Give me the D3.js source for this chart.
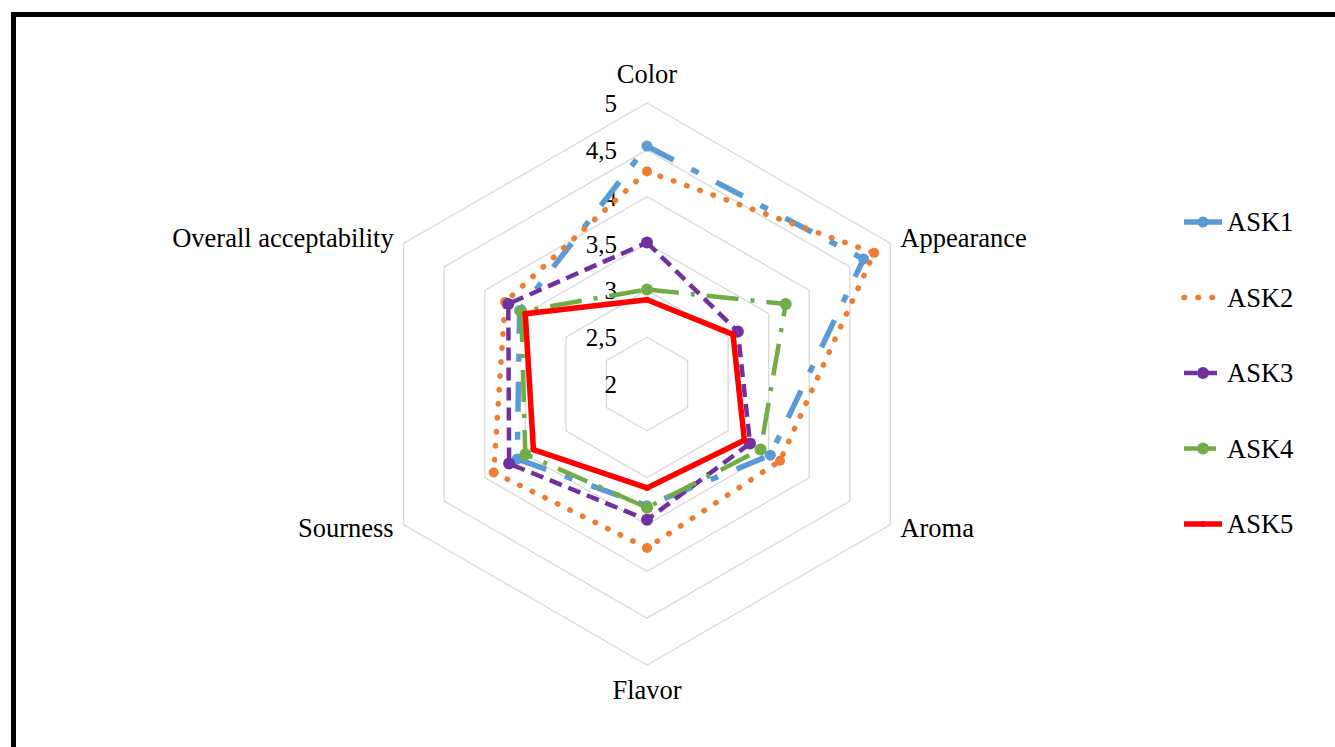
<!DOCTYPE html>
<html>
<head>
<meta charset="utf-8">
<script src="https://cdn.jsdelivr.net/npm/d3@7"></script>
<style>
  body { margin: 0; background: #fff; overflow: hidden; }
</style>
</head>
<body>
<div id="myDataViz"></div>
<script>
// axes (clockwise from the top)
let categories = ["Color", "Appearance", "Aroma", "Flavor", "Sourness", "Overall acceptability"];
let seriesNames = ["ASK1", "ASK2", "ASK3", "ASK4", "ASK5"];

// scores
let ask1 = [4.54, 4.67, 3.52, 3.30, 3.60, 3.57];
let ask2 = [4.27, 4.80, 3.64, 3.75, 3.89, 3.75];
let ask3 = [3.51, 3.12, 3.27, 3.45, 3.70, 3.71];
let ask4 = [3.01, 3.71, 3.40, 3.32, 3.50, 3.55];
let ask5 = [2.90, 3.06, 3.20, 3.11, 3.40, 3.50];

let tickValues = [2, 2.5, 3, 3.5, 4, 4.5, 5];
let tickLabels = ["2", "2,5", "3", "3,5", "4", "4,5", "5"];

plotRadar();

function plotRadar() {
    var width = 1335, height = 747;
    var cx = 647, cy = 384, R = 281;

    var svg = d3.select("#myDataViz")
      .append("svg")
        .attr("width", width)
        .attr("height", height)
        .attr("font-family", "'Liberation Serif', 'Times New Roman', Times, 'DejaVu Serif', serif");

    // frame of the original screenshot (only left + top edges are visible)
    svg.append("rect")
      .attr("x", 13.5).attr("y", 14.5)
      .attr("width", width + 20).attr("height", height + 20)
      .attr("fill", "none")
      .attr("stroke", "#000")
      .attr("stroke-width", 5);

    var r = d3.scaleLinear().domain([2, 5]).range([0, R]);
    var angle = d3.scaleLinear().domain([0, categories.length]).range([-Math.PI / 2, 1.5 * Math.PI]);

    function pt(i, v) {
        return [cx + r(v) * Math.cos(angle(i)), cy + r(v) * Math.sin(angle(i))];
    }

    // hexagon gridlines (no ring at 2, that is the centre)
    var line = d3.line().curve(d3.curveLinearClosed);
    svg.append("g")
      .selectAll("path")
      .data(tickValues.filter(function(t) { return t > 2; }))
      .join("path")
        .attr("fill", "none")
        .attr("stroke", "#d9d9d9")
        .attr("stroke-width", 1.3)
        .attr("d", function(t) { return line(categories.map(function(c, i) { return pt(i, t); })); });

    // value labels along the first axis
    svg.append("g")
      .selectAll("text")
      .data(tickValues)
      .join("text")
        .attr("x", cx - 30)
        .attr("y", function(t) { return cy - r(t) + 9; })
        .attr("text-anchor", "end")
        .attr("font-size", 25)
        .text(function(t, i) { return tickLabels[i]; });

    // category labels
    svg.append("g")
      .selectAll("text")
      .data(categories)
      .join("text")
        .attr("font-size", 26.5)
        .each(function(c, i) {
            var p = pt(i, 5);
            var cs = Math.cos(angle(i)), sn = Math.sin(angle(i));
            var el = d3.select(this);
            if (Math.abs(cs) < 0.01) {
                el.attr("text-anchor", "middle").attr("x", p[0])
                  .attr("y", sn < 0 ? p[1] - 20 : p[1] + 34);
            } else {
                el.attr("text-anchor", cs > 0 ? "start" : "end")
                  .attr("x", cs > 0 ? p[0] + 10 : p[0] - 10)
                  .attr("y", sn < 0 ? p[1] + 3 : p[1] + 12);
            }
        })
        .text(function(c) { return c; });

    // series styles
    var styles = [
        { data: ask1, color: "#5b9bd5", width: 5.5, dash: "30,20,8,20", cap: "butt", marker: 5.5 },
        { data: ask2, color: "#ed7d31", width: 5.5, dash: "0.5,13.5", cap: "round", marker: 5 },
        { data: ask3, color: "#7030a0", width: 4.5, dash: "13,7", cap: "butt", marker: 6 },
        { data: ask4, color: "#70ad47", width: 4.5, dash: "32,12,4,12", cap: "butt", marker: 6 },
        { data: ask5, color: "#ff0000", width: 5.5, dash: null, cap: "butt", marker: 3 }
    ];

    styles.forEach(function(s) {
        var pts = s.data.map(function(v, i) { return pt(i, v); });
        svg.append("path")
          .attr("fill", "none")
          .attr("stroke", s.color)
          .attr("stroke-width", s.width)
          .attr("stroke-dasharray", s.dash)
          .attr("stroke-linecap", s.cap)
          .attr("stroke-linejoin", "round")
          .attr("d", line(pts));
        svg.append("g")
          .selectAll("circle")
          .data(pts)
          .join("circle")
            .attr("cx", function(d) { return d[0]; })
            .attr("cy", function(d) { return d[1]; })
            .attr("r", s.marker)
            .attr("fill", s.color);
    });

    // legend
    var legend = svg.append("g");
    styles.forEach(function(s, k) {
        var y = 222 + 75.5 * k;
        legend.append("line")
          .attr("x1", 1184).attr("x2", 1222)
          .attr("y1", y).attr("y2", y)
          .attr("stroke", s.color)
          .attr("stroke-width", s.width)
          .attr("stroke-dasharray", s.dash ? (k == 0 ? null : s.dash) : null)
          .attr("stroke-linecap", s.cap);
        if (k != 1) {
            legend.append("circle")
              .attr("cx", 1203).attr("cy", y)
              .attr("r", s.marker)
              .attr("fill", s.color);
        }
        legend.append("text")
          .attr("x", 1227)
          .attr("y", y + 9)
          .attr("font-size", 26.5)
          .text(seriesNames[k]);
    });
}
</script>
</body>
</html>
